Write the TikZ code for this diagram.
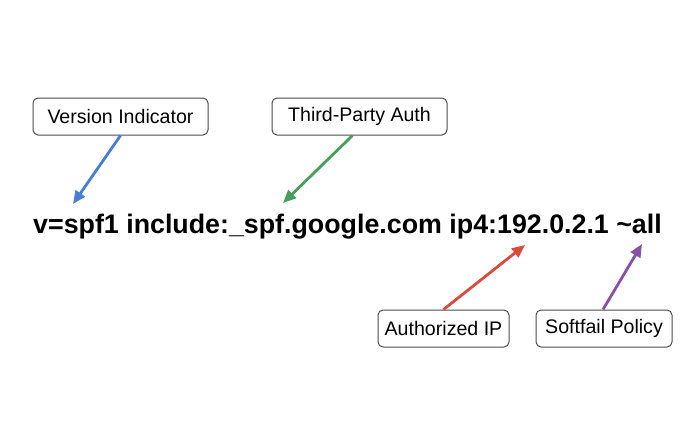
\documentclass[tikz,border=0pt]{standalone}
\usepackage{fontspec}
\setmainfont{Liberation Sans}
\usetikzlibrary{arrows.meta}

\definecolor{verblue}{HTML}{4A7CD0}
\definecolor{authgreen}{HTML}{44A05A}
\definecolor{ipred}{HTML}{DB4A3B}
\definecolor{failpurple}{HTML}{8A4FA6}

\tikzset{
    label box/.style={draw=black!70, line width=1pt, rounded corners=5pt, fill=white,
        minimum height=37pt, inner sep=0pt, font=\fontsize{19.6}{23}\selectfont},
    pointer/.style={line width=2.8pt, -{Triangle[length=13pt,width=11pt]}}
}

\begin{document}
\begin{tikzpicture}[x=1pt, y=-1pt]
            \useasboundingbox (0, 0) rectangle (700, 447);

            \node[anchor=base, font=\fontsize{26.8}{32}\selectfont\bfseries] (record) at (347.5, 233)
                {v=spf1 include:\_spf.google.com ip4:192.0.2.1 \textasciitilde all};

            \node[label box, minimum width=175pt] (version) at (120.5, 116.5) {Version Indicator};
            \node[label box, minimum width=175pt] (third) at (359.5, 116.5) {Third-Party Auth};
            \node[label box, minimum width=131pt] (authip) at (443.5, 328.5) {Authorized IP};
            \node[label box, minimum width=136pt] (softfail) at (604, 328.5) {Softfail Policy};

            \path (73, 204) coordinate (V)
                  (283, 203) coordinate (T)
                  (525, 245) coordinate (A)
                  (642, 244) coordinate (S);

            \draw[pointer, verblue] (version.south) -- (V);
            \draw[pointer, authgreen] ([xshift=-7pt]third.south) -- (T);
            \draw[pointer, ipred] (authip.north) -- (A);
            \draw[pointer, failpurple] ([xshift=-1pt]softfail.north) -- (S);
        \end{tikzpicture}
\end{document}
